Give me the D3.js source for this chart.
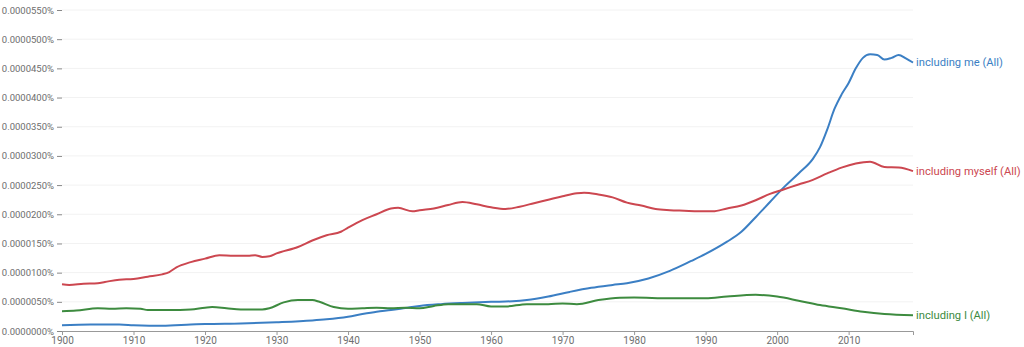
<!DOCTYPE html>
<html>
<head>
<meta charset="utf-8">
<script src="https://cdn.jsdelivr.net/npm/d3@7"></script>
<style>
html,body{margin:0;padding:0;background:#fff;}
svg{display:block;font-family:Roboto,"Noto Sans",sans-serif;}
</style>
</head>
<body>
<svg id="chart" width="1024" height="347"></svg>
<script>
// values in units of 0.000001 %
const UNIT = 0.000001;
const seriesNames = ["including me (All)", "including myself (All)", "including I (All)"];
const meYears = [1900,1904,1908,1910,1914,1918,1920,1925,1930,1935,1937,1940,1942,1944,1946,1948,1950,1953,1956,1960,1963,1965,1968,1971,1974,1977,1979,1982,1985,1988,1990,1993,1995,1997,1999,2001,2003,2005,2006,2007,2008,2009,2010,2011,2012,2013,2014,2015,2016,2017,2018,2019];
const meValues = [1.0,1.1,1.1,1.0,0.9,1.1,1.2,1.3,1.5,1.8,2.0,2.45,2.9,3.3,3.6,3.95,4.3,4.6,4.8,5.0,5.1,5.3,5.9,6.7,7.4,7.9,8.2,9.0,10.3,12.0,13.2,15.3,17.0,19.5,22.1,24.7,27.0,29.5,31.5,34.5,38.0,40.5,42.5,45.0,46.8,47.4,47.3,46.5,46.8,47.3,46.7,46.0];
const myselfYears = [1900,1901,1903,1905,1906,1908,1910,1912,1914,1915,1916,1918,1920,1922,1924,1926,1927,1928,1929,1930,1933,1935,1937,1939,1940,1942,1944,1946,1947,1949,1950,1952,1954,1956,1958,1960,1962,1964,1966,1968,1970,1972,1973,1975,1977,1979,1981,1983,1985,1987,1989,1991,1993,1995,1997,1999,2001,2003,2005,2007,2009,2011,2013,2015,2017,2019];
const myselfValues = [8.0,7.9,8.1,8.2,8.4,8.8,8.9,9.3,9.7,10.1,10.9,11.8,12.4,13.0,12.9,12.9,13.0,12.7,12.8,13.3,14.4,15.5,16.4,17.0,17.7,19.0,20.0,21.0,21.1,20.5,20.7,21.0,21.6,22.1,21.7,21.2,20.9,21.3,21.9,22.5,23.1,23.6,23.7,23.4,22.9,22.0,21.5,20.9,20.7,20.6,20.5,20.5,21.0,21.5,22.4,23.5,24.3,25.1,25.9,27.0,28.0,28.7,29.0,28.1,28.0,27.4];
const iYears = [1900,1902,1905,1907,1909,1911,1912,1915,1918,1920,1921,1923,1925,1928,1929,1931,1933,1935,1936,1938,1940,1942,1944,1946,1948,1950,1952,1954,1956,1958,1960,1962,1965,1968,1970,1972,1975,1978,1980,1985,1990,1993,1997,2000,2003,2006,2009,2012,2015,2019];
const iValues = [3.4,3.5,3.9,3.8,3.9,3.8,3.6,3.6,3.7,4.0,4.1,3.9,3.7,3.7,3.9,4.9,5.3,5.3,5.0,4.1,3.8,3.9,4.0,3.9,4.0,3.9,4.3,4.6,4.6,4.6,4.2,4.2,4.6,4.6,4.7,4.6,5.3,5.7,5.75,5.6,5.6,5.9,6.2,5.9,5.2,4.45,3.9,3.3,2.9,2.7];
const yTicks = [0,5,10,15,20,25,30,35,40,45,50,55];
const xTicks = [1900,1910,1920,1930,1940,1950,1960,1970,1980,1990,2000,2010];
const colors = ["#3b7fc4", "#cc4750", "#3d8b3f"];

const svg = d3.select("#chart");
const margin = {left: 62, right: 111, top: 10, bottom: 16};
const W = 1024, H = 347;
const x = d3.scaleLinear().domain([1900, 2019]).range([margin.left, W - margin.right]);
const y = d3.scaleLinear().domain([0, 55 * UNIT]).range([H - margin.bottom, margin.top]);

// gridlines
svg.append("g").selectAll("line").data(yTicks.slice(1)).join("line")
  .attr("x1", x(1900)).attr("x2", x(2019))
  .attr("y1", d => y(d*UNIT)).attr("y2", d => y(d*UNIT))
  .attr("stroke", "#f2f2f2").attr("stroke-width", 1);

// y axis
const yAxis = d3.axisLeft(y).tickValues(yTicks.map(d => d*UNIT)).tickSize(5).tickPadding(3)
  .tickFormat(d => d.toFixed(7) + "%");
const gy = svg.append("g").attr("transform", `translate(${x(1900)},0)`).call(yAxis);
gy.select(".domain").remove();
gy.selectAll(".tick line").attr("stroke", "#888");
gy.selectAll(".tick text").attr("fill", "#6e6e6e").attr("font-size", 9.5)
  .attr("font-family", "Roboto, sans-serif");

// x axis
const xAxis = d3.axisBottom(x).tickValues(xTicks).tickSize(4).tickPadding(2).tickFormat(d3.format("d"));
const gx = svg.append("g").attr("transform", `translate(0,${y(0)})`).call(xAxis);
gx.select(".domain").attr("stroke", "#999");
gx.selectAll(".tick line").attr("stroke", "#999");
gx.selectAll(".tick text").attr("fill", "#6e6e6e").attr("font-size", 10)
  .attr("font-family", "Roboto, sans-serif");

const series = [
  {name: seriesNames[0], years: meYears, values: meValues},
  {name: seriesNames[1], years: myselfYears, values: myselfValues},
  {name: seriesNames[2], years: iYears, values: iValues}
];
const line = d3.line().x(d => x(d[0])).y(d => y(d[1]*UNIT)).curve(d3.curveMonotoneX);
series.forEach((s, i) => {
  const pts = s.years.map((yr, k) => [yr, s.values[k]]);
  svg.append("path").datum(pts).attr("d", line)
    .attr("fill", "none").attr("stroke", colors[i]).attr("stroke-width", 2)
    .attr("stroke-linejoin", "round");
  const last = pts[pts.length - 1];
  svg.append("text").attr("x", x(last[0]) + 3).attr("y", y(last[1]*UNIT))
    .attr("dy", "0.35em").attr("fill", colors[i]).attr("font-size", 11.2)
    .attr("font-family", "Roboto, sans-serif").text(s.name);
});
</script>
</body>
</html>
